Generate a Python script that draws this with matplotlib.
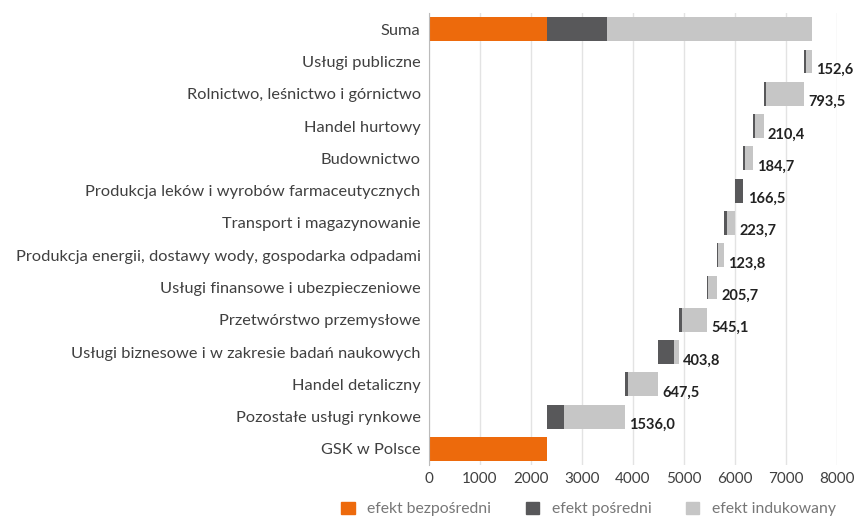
import matplotlib.pyplot as plt
import numpy as np

plt.rcParams['font.family'] = ['Lato', 'DejaVu Sans']

# categories from bottom to top
categories = [
    "GSK w Polsce",
    "Pozostałe usługi rynkowe",
    "Handel detaliczny",
    "Usługi biznesowe i w zakresie badań naukowych",
    "Przetwórstwo przemysłowe",
    "Usługi finansowe i ubezpieczeniowe",
    "Produkcja energii, dostawy wody, gospodarka odpadami",
    "Transport i magazynowanie",
    "Produkcja leków i wyrobów farmaceutycznych",
    "Budownictwo",
    "Handel hurtowy",
    "Rolnictwo, leśnictwo i górnictwo",
    "Usługi publiczne",
]
direct_gsk = 2314.0
# totals per sector (indirect + induced), as labelled
totals = [1536.0, 647.5, 403.8, 545.1, 205.7, 123.8, 223.7, 166.5, 184.7, 210.4, 793.5, 152.6]
# indirect part
indirect = [340, 50, 300, 50, 30, 20, 65, 150, 30, 50, 50, 35]

c_direct = "#ED6A0C"
c_indirect = "#58585A"
c_induced = "#C6C6C6"

totals = np.array(totals)
indirect = np.array(indirect, dtype=float)
induced = totals - indirect
starts = direct_gsk + np.concatenate([[0], np.cumsum(totals)[:-1]])

fig = plt.figure(figsize=(8.58, 5.22), dpi=100)
ax = fig.add_axes([0.5, 0.109, 0.4755, 0.866])

h = 0.74
n = len(categories)
ypos = np.arange(n + 1)

# GSK direct bar
ax.barh(0, direct_gsk, height=h, color=c_direct, zorder=3)
# sector bars
ys = ypos[1:n]
ax.barh(ys, indirect, left=starts, height=h, color=c_indirect, zorder=3)
ax.barh(ys, induced, left=starts + indirect, height=h, color=c_induced, zorder=3)
# Suma bar
ax.barh(n, direct_gsk, height=h, color=c_direct, zorder=3)
ax.barh(n, indirect.sum(), left=direct_gsk, height=h, color=c_indirect, zorder=3)
ax.barh(n, induced.sum(), left=direct_gsk + indirect.sum(), height=h, color=c_induced, zorder=3)

for y, s, t in zip(ys, starts, totals):
    ax.annotate(f"{t:.1f}".replace(".", ","), xy=(s + t, y), xytext=(3, -6),
                textcoords="offset points", va="center", ha="left",
                fontsize=10.5, fontweight="bold", color="#222222", annotation_clip=False)

ax.set_yticks(ypos)
ax.set_yticklabels(categories + ["Suma"])
ax.set_ylim(-0.5, n + 0.5)
ax.set_xlim(0, 8000)
ax.set_xticks(np.arange(0, 8001, 1000))
ax.tick_params(axis="y", length=0, pad=6, labelsize=11.8, labelcolor="#404040")
ax.tick_params(axis="x", length=0, pad=5, labelsize=11, labelcolor="#404040")
ax.grid(axis="x", color="#E3E3E3", linewidth=1, zorder=0)
for side in ["top", "right", "bottom"]:
    ax.spines[side].set_visible(False)
ax.spines["left"].set_color("#BBBBBB")
ax.spines["left"].set_zorder(4)

handles = [plt.Rectangle((0, 0), 1, 1, color=c) for c in (c_direct, c_indirect, c_induced)]
fig.legend(handles, ["efekt bezpośredni", "efekt pośredni", "efekt indukowany"],
           loc="center", bbox_to_anchor=(0.686, 0.025), ncol=3, frameon=False,
           handlelength=0.85, handleheight=0.85, columnspacing=2.2, handletextpad=0.8,
           fontsize=11.3, labelcolor="#777777", borderpad=0, borderaxespad=0)

plt.savefig("out.png", dpi=100)
